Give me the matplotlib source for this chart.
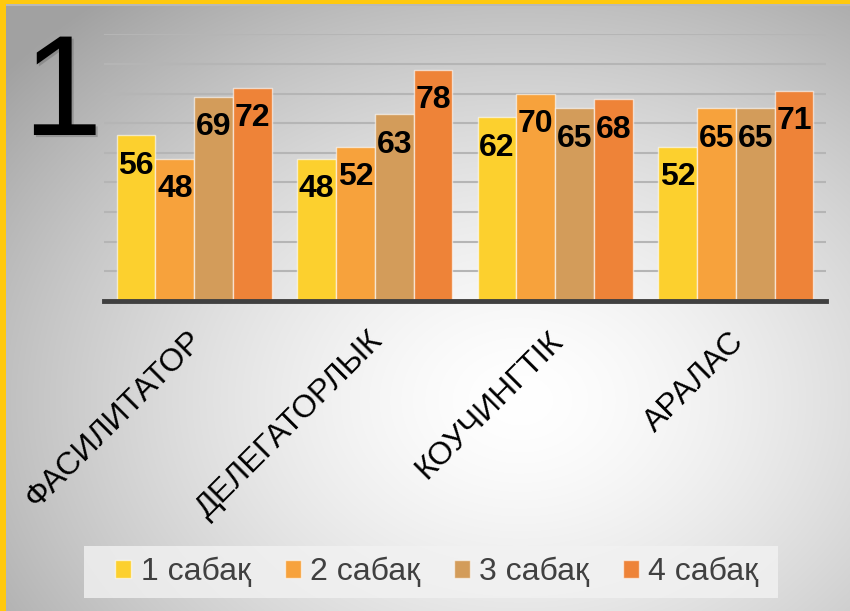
import matplotlib
matplotlib.use("Agg")
import matplotlib.pyplot as plt
import matplotlib.patheffects as pe
import matplotlib.transforms as mtransforms
from matplotlib.patches import Rectangle
import numpy as np

# ── Data ─────────────────────────────────────────────────────────────────────
categories = ["ФАСИЛИТАТОР", "ДЕЛЕГАТОРЛЫК", "КОУЧИНГТІК", "АРАЛАС"]
series_names = ["1 сабақ", "2 сабақ", "3 сабақ", "4 сабақ"]
lesson1 = [56, 48, 62, 52]
lesson2 = [48, 52, 70, 65]
lesson3 = [69, 63, 65, 65]
lesson4 = [72, 78, 68, 71]
series = [lesson1, lesson2, lesson3, lesson4]
colors = ["#FCD02E", "#F7A23C", "#D39C5A", "#EE8338"]

plt.rcParams["font.family"] = ["Liberation Sans", "DejaVu Sans"]

W, H = 850, 611
fig = plt.figure(figsize=(W / 100, H / 100), dpi=100)

# ── Background: radial grey gradient + yellow frame ─────────────────────────
bg = fig.add_axes([0, 0, 1, 1], zorder=0)
yy, xx = np.mgrid[0:H, 0:W]
r = np.sqrt(((xx - 520) / 560.0) ** 2 + ((yy - 400) / 430.0) ** 2)
val = 1.0 - 0.28 * np.clip(r, 0, 1.2) ** 1.5
img = np.dstack([val, val, val])
bg.imshow(img, extent=[0, W, H, 0], aspect="auto", interpolation="bilinear")
bg.set_xlim(0, W)
bg.set_ylim(H, 0)
bg.axis("off")
bg.add_patch(Rectangle((0, 4), W, 2, color="#b8b8b8", lw=0))
bg.add_patch(Rectangle((0, 0), W, 4, color="#FFC90E", lw=0))
bg.add_patch(Rectangle((0, 0), 6, H, color="#FFC90E", lw=0))
# legend panel
bg.add_patch(Rectangle((84, 546), 694, 52, color="#f2f2f2", alpha=0.8, lw=0))

# ── Chart ────────────────────────────────────────────────────────────────────
ax = fig.add_axes([104 / W, 1 - 301 / H, 722 / W, (301 - 34.3) / H], zorder=1)
ax.patch.set_alpha(0)

x = np.arange(len(categories))
w = 0.215
for j, (vals, name, c) in enumerate(zip(series, series_names, colors)):
    pos = x + (j - 1.5) * w
    ax.bar(pos, vals, width=w, color=c, edgecolor=(1, 1, 1, 0.6), linewidth=1,
           label=name, zorder=3)
    for px, v in zip(pos, vals):
        ax.annotate(str(v), (px, v), xytext=(0, -22), textcoords="offset points",
                    ha="center", va="center", fontsize=23, fontweight="bold",
                    color="black", zorder=5)

ax.set_xlim(-0.5, len(categories) - 0.5)
ax.set_ylim(0, 90)
ax.set_yticks(np.arange(0, 91, 10))
ax.yaxis.grid(True, color="#b5b5b5", lw=1.5, zorder=1)
ax.set_axisbelow(True)
ax.tick_params(axis="y", length=0, labelleft=False)
ax.tick_params(axis="x", length=0, pad=18)
ax.set_xticks(x)
ax.set_xticklabels(categories, rotation=45, ha="right", rotation_mode="anchor",
                   fontsize=23, color="black")
shift = mtransforms.ScaledTranslation(-7 / 100, 0, fig.dpi_scale_trans)
for lbl in ax.get_xticklabels():
    lbl.set_transform(lbl.get_transform() + shift)
for s in ["top", "right", "left"]:
    ax.spines[s].set_visible(False)
ax.spines["bottom"].set_color("#404040")
ax.spines["bottom"].set_linewidth(3.5)
ax.spines["bottom"].set_zorder(4)

leg = fig.legend(loc="center", bbox_to_anchor=(437 / W, 1 - 572 / H), ncol=4,
                 fontsize=23, frameon=False, handlelength=0.5, handleheight=0.5,
                 handletextpad=0.3, columnspacing=1.05, borderpad=0.3,
                 borderaxespad=0)
for t in leg.get_texts():
    t.set_color("#404040")

# ── Big slide number ─────────────────────────────────────────────────────────
fig.text(23 / W, 1 - 135 / H, "1", fontsize=103, color="black",
         ha="left", va="baseline", zorder=6,
         path_effects=[pe.withSimplePatchShadow(offset=(1.5, -1.5),
                                                shadow_rgbFace="#666666",
                                                alpha=0.4)])

fig.savefig("out.png", dpi=100)
